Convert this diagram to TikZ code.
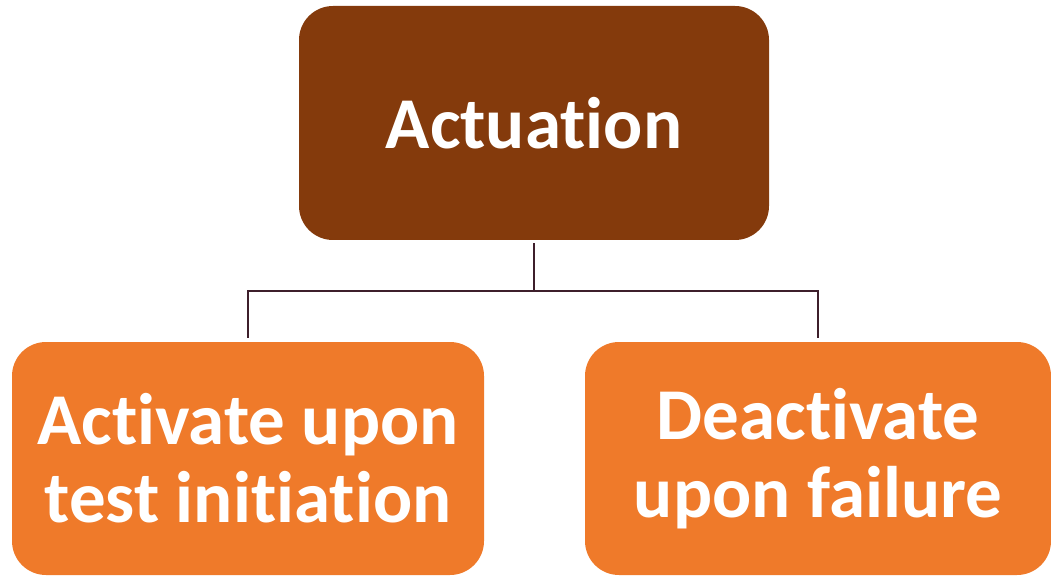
\documentclass[tikz,border=0pt]{standalone}
\usepackage{fontspec}
\setmainfont[Ligatures={NoCommon,NoContextual}]{Carlito}
\definecolor{rootbrown}{HTML}{843A0C}
\definecolor{leaforange}{HTML}{EF7A2A}
\definecolor{linkdark}{HTML}{3E1F2B}
\begin{document}
\begin{tikzpicture}[x=1pt,y=-1pt,
  box/.style={rounded corners=34pt, inner sep=0pt, align=center,
    text=white, font=\fontsize{73}{78}\selectfont\bfseries},
  rootbox/.style={box, fill=rootbrown, minimum width=470pt, minimum height=234pt},
  leafbox/.style={box, fill=leaforange, minimum height=233pt},
  link/.style={draw=linkdark, line width=2.8pt}]
  \useasboundingbox (0,0) rectangle (1051,577);
  % tree nodes
  \node[rootbox] (root) at (534,123) {Actuation};
  \node[leafbox, minimum width=472pt] (left) at (248,458.5) {Activate upon\\test initiation};
  \node[leafbox, minimum width=466pt] (right) at (818,458.5) {Deactivate\\upon failure};
  % elbow connectors through a shared junction
  \coordinate (junction) at (534,291);
  \draw[link, shorten <=3pt] (root.south) -- (junction);
  \draw[link, shorten >=4pt] (junction) -| (left.north);
  \draw[link, shorten >=4pt] (junction) -| (right.north);
\end{tikzpicture}
\end{document}
